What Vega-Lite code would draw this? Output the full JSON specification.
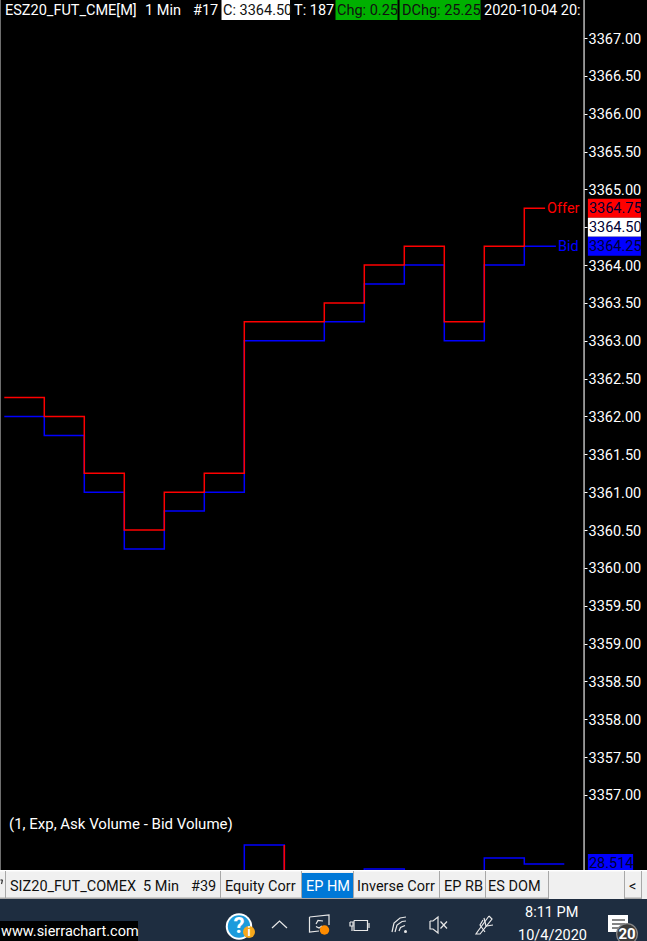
{"$schema":"https://vega.github.io/schema/vega-lite/v6.json","width":647,"height":941,"padding":0,"autosize":"none","background":"#000000","config":{"view":{"stroke":null},"text":{"font":"Roboto","fontSize":14.5}},
"datasets":{
"quotes":[
{"series":"Bid","bar":0,"price":3362.0},{"series":"Bid","bar":1,"price":3361.75},{"series":"Bid","bar":2,"price":3361.0},{"series":"Bid","bar":3,"price":3360.25},{"series":"Bid","bar":4,"price":3360.75},{"series":"Bid","bar":5,"price":3361.0},{"series":"Bid","bar":6,"price":3363.0},{"series":"Bid","bar":7,"price":3363.0},{"series":"Bid","bar":8,"price":3363.25},{"series":"Bid","bar":9,"price":3363.75},{"series":"Bid","bar":10,"price":3364.0},{"series":"Bid","bar":11,"price":3363.0},{"series":"Bid","bar":12,"price":3364.0},{"series":"Bid","bar":13,"price":3364.25},{"series":"Bid","bar":13.79,"price":3364.25},
{"series":"Offer","bar":0,"price":3362.25},{"series":"Offer","bar":1,"price":3362.0},{"series":"Offer","bar":2,"price":3361.25},{"series":"Offer","bar":3,"price":3360.5},{"series":"Offer","bar":4,"price":3361.0},{"series":"Offer","bar":5,"price":3361.25},{"series":"Offer","bar":6,"price":3363.25},{"series":"Offer","bar":7,"price":3363.25},{"series":"Offer","bar":8,"price":3363.5},{"series":"Offer","bar":9,"price":3364.0},{"series":"Offer","bar":10,"price":3364.25},{"series":"Offer","bar":11,"price":3363.25},{"series":"Offer","bar":12,"price":3364.25},{"series":"Offer","bar":13,"price":3364.75},{"series":"Offer","bar":13.52,"price":3364.75}],
"labels":[{"series":"Offer","bar":14.38,"price":3364.75},{"series":"Bid","bar":14.36,"price":3364.25}],
"badges":[{"role":"ask","bar":14.59,"bar2":15.915,"price":3364.75,"lo":3364.625,"hi":3364.875},{"role":"last","bar":14.59,"bar2":15.915,"price":3364.5,"lo":3364.375,"hi":3364.625},{"role":"bid","bar":14.59,"bar2":15.915,"price":3364.25,"lo":3364.125,"hi":3364.375}],
"volume":[{"bar":5,"delta":-5},{"bar":6,"delta":47.5},{"bar":7,"delta":-5},{"bar":9,"delta":23.5},{"bar":10,"delta":-5},{"bar":12,"delta":34.5},{"bar":13,"delta":28.514},{"bar":14,"delta":28.514}],
"volumeRed":[{"bar":7,"delta":-5,"delta2":47.5}],
"volumeBadge":[{"bar":14.59,"bar2":15.72,"lo":22.5,"hi":38.5,"delta":28.514,"label":"28.514"}],
"panels":[
{"role":"white","x":583.5,"x2":584.6,"y":0,"y2":870},
{"role":"edge","x":0,"x2":1,"y":0,"y2":870},
{"role":"white","x":221.5,"x2":290,"y":0,"y2":20},
{"role":"green","x":335.5,"x2":397.5,"y":0,"y2":20},
{"role":"green","x":399.6,"x2":480.5,"y":0,"y2":20},
{"role":"white","x":0,"x2":647,"y":870,"y2":872},
{"role":"tabs","x":0,"x2":647,"y":871.5,"y2":899},
{"role":"divider","x":0,"x2":548,"y":897.5,"y2":899},
{"role":"divider","x":624,"x2":641,"y":897.5,"y2":899},
{"role":"divider","x":5,"x2":6,"y":871,"y2":899},
{"role":"divider","x":220,"x2":221,"y":871,"y2":899},
{"role":"divider","x":301,"x2":302,"y":871,"y2":899},
{"role":"divider","x":353,"x2":354,"y":871,"y2":899},
{"role":"divider","x":439,"x2":440,"y":871,"y2":899},
{"role":"divider","x":485,"x2":486,"y":871,"y2":899},
{"role":"divider","x":548,"x2":549,"y":871,"y2":899},
{"role":"divider","x":624,"x2":625,"y":871,"y2":899},
{"role":"divider","x":641,"x2":642,"y":871,"y2":899},
{"role":"active","x":302,"x2":353,"y":873,"y2":898},
{"role":"taskbar","x":0,"x2":647,"y":899,"y2":941},
{"role":"black","x":0,"x2":138,"y":921,"y2":941},
{"role":"white","x":608,"x2":628,"y":915,"y2":932}],
"texts":[
{"t":"ESZ20_FUT_CME[M]","x":5,"y":10.5,"c":"light"},{"t":"1 Min","x":145,"y":10.5,"c":"light"},{"t":"#17","x":193,"y":10.5,"c":"light"},{"t":"C: 3364.50","x":223,"y":10.5,"c":"dark"},{"t":"T: 187","x":294,"y":10.5,"c":"light"},{"t":"Chg: 0.25","x":337,"y":10.5,"c":"dark"},{"t":"DChg: 25.25","x":402,"y":10.5,"c":"dark"},{"t":"2020-10-04 20:","x":484,"y":10.5,"c":"light"},
{"t":"SIZ20_FUT_COMEX","x":10,"y":887,"c":"dark"},{"t":"5 Min","x":143,"y":887,"c":"dark"},{"t":"#39","x":191,"y":887,"c":"dark"},{"t":"Equity Corr","x":225,"y":887,"c":"dark"},{"t":"EP HM","x":306,"y":887,"c":"light"},{"t":"Inverse Corr","x":357,"y":887,"c":"dark"},{"t":"EP RB","x":444,"y":887,"c":"dark"},{"t":"ES DOM","x":488,"y":887,"c":"dark"},{"t":"<","x":629,"y":887,"c":"dark"},
{"t":"www.sierrachart.com","x":1,"y":932,"c":"light"},{"t":"8:11 PM","x":525,"y":913,"c":"light"},{"t":"10/4/2020","x":518,"y":936,"c":"light"}],
"study":[{"t":"(1, Exp, Ask Volume - Bid Volume)","x":9,"y":824}],
"strokes":[
{"id":"caret","o":1,"x":272,"y":928},{"id":"caret","o":2,"x":279.5,"y":921},{"id":"caret","o":3,"x":287,"y":928},
{"id":"monitor","o":1,"x":309.5,"y":917},{"id":"monitor","o":2,"x":329,"y":915},{"id":"monitor","o":3,"x":329,"y":925},{"id":"monitor2","o":1,"x":319,"y":931},{"id":"monitor2","o":2,"x":309.5,"y":932},{"id":"monitor2","o":3,"x":309.5,"y":917},
{"id":"arrow","o":1,"x":316,"y":924},{"id":"arrow","o":2,"x":318,"y":920.5},{"id":"arrow","o":3,"x":323,"y":921},
{"id":"arrow2","o":1,"x":322,"y":926},{"id":"arrow2","o":2,"x":319,"y":928},{"id":"arrow2","o":3,"x":316,"y":926.5},
{"id":"battery","o":1,"x":354,"y":920.5},{"id":"battery","o":2,"x":367.5,"y":920.5},{"id":"battery","o":3,"x":367.5,"y":930.5},{"id":"battery","o":4,"x":354,"y":930.5},{"id":"battery","o":5,"x":354,"y":920.5},
{"id":"nub","o":1,"x":369,"y":923},{"id":"nub","o":2,"x":369,"y":928},
{"id":"plug","o":1,"x":350,"y":922},{"id":"plug","o":2,"x":353,"y":922},{"id":"plug","o":3,"x":353,"y":926},{"id":"plug","o":4,"x":350,"y":926},{"id":"plug","o":5,"x":350,"y":922},
{"id":"plugb","o":1,"x":352,"y":926},{"id":"plugb","o":2,"x":352,"y":931},
{"id":"wifi1","o":1,"x":399,"y":931},{"id":"wifi1","o":2,"x":400.5,"y":927.5},{"id":"wifi1","o":3,"x":405,"y":925.5},
{"id":"wifi2","o":1,"x":395,"y":932},{"id":"wifi2","o":2,"x":397,"y":925},{"id":"wifi2","o":3,"x":402,"y":921.5},{"id":"wifi2","o":4,"x":406,"y":921},
{"id":"wifi3","o":1,"x":392,"y":932},{"id":"wifi3","o":2,"x":394,"y":923},{"id":"wifi3","o":3,"x":400,"y":918},{"id":"wifi3","o":4,"x":406,"y":917},
{"id":"speaker","o":1,"x":430,"y":921},{"id":"speaker","o":2,"x":433,"y":921},{"id":"speaker","o":3,"x":438,"y":917},{"id":"speaker","o":4,"x":438,"y":933},{"id":"speaker","o":5,"x":433,"y":929},{"id":"speaker","o":6,"x":430,"y":929},{"id":"speaker","o":7,"x":430,"y":921},
{"id":"x1","o":1,"x":440.5,"y":921.5},{"id":"x1","o":2,"x":447,"y":928.5},{"id":"x2","o":1,"x":447,"y":921.5},{"id":"x2","o":2,"x":440.5,"y":928.5},
{"id":"pen","o":1,"x":489,"y":916},{"id":"pen","o":2,"x":478,"y":931},{"id":"pen","o":3,"x":476,"y":934},{"id":"pen","o":4,"x":480,"y":934},{"id":"pen","o":5,"x":492,"y":919},{"id":"pen","o":6,"x":489,"y":916},
{"id":"pen2","o":1,"x":484,"y":918},{"id":"pen2","o":2,"x":486,"y":926},{"id":"pen2","o":3,"x":493,"y":925},
{"id":"pen3","o":1,"x":483,"y":920},{"id":"pen3","o":2,"x":480,"y":925},{"id":"pen3","o":3,"x":485,"y":932}],
"notes":[{"id":"n1","o":1,"x":612,"y":920},{"id":"n1","o":2,"x":625,"y":920},{"id":"n2","o":1,"x":612,"y":924},{"id":"n2","o":2,"x":625,"y":924},{"id":"n3","o":1,"x":612,"y":928},{"id":"n3","o":2,"x":622,"y":928},{"id":"tabY","o":1,"x":0.5,"y":880},{"id":"tabY","o":2,"x":2.5,"y":880},{"id":"tabY2","o":1,"x":2.5,"y":880},{"id":"tabY2","o":2,"x":1.5,"y":884}],
"dots":[{"role":"ring","x":239,"y":926.5,"d":700},{"role":"help","x":239,"y":926.5,"d":500},{"role":"warn","x":249,"y":932,"d":144},{"role":"warn2","x":324.5,"y":930,"d":90},{"role":"wifi","x":405.5,"y":931.5,"d":9},{"role":"badgeRing","x":627,"y":934,"d":484},{"role":"badge","x":627,"y":934,"d":380}],
"glyphBig":[{"t":"?","x":239,"y":926}],
"glyphSmall":[{"t":"i","x":249,"y":932}],
"glyphMid":[{"t":"20","x":627,"y":934}]
},
"layer":[
{"data":{"name":"quotes"},"mark":{"type":"line","interpolate":"step-after","strokeWidth":1.5},"encoding":{"x":{"field":"bar","type":"quantitative","scale":{"domain":[-0.1075,16.0675],"nice":false,"zero":false},"axis":null},"y":{"field":"price","type":"quantitative","scale":{"domain":[3355.071,3367.502],"nice":false,"zero":false},"axis":{"orient":"right","offset":-63,"values":[3357,3357.5,3358,3358.5,3359,3359.5,3360,3360.5,3361,3361.5,3362,3362.5,3363,3363.5,3364,3364.5,3365,3365.5,3366,3366.5,3367],"format":".2f","domain":false,"grid":false,"tickColor":"#ffffff","tickSize":3,"tickWidth":1,"labelColor":"#ffffff","labelFont":"Roboto","labelFontSize":14.5,"labelPadding":1,"labelOffset":1,"title":null,"labelOverlap":false,"labelFlush":false}},"color":{"field":"series","type":"nominal","scale":{"domain":["Bid","Offer"],"range":["#0000ff","#ff0000"]},"legend":null},"order":{"field":"bar","type":"quantitative"}}},
{"data":{"name":"labels"},"mark":{"type":"text","align":"right","baseline":"middle","dy":1},"encoding":{"x":{"field":"bar","type":"quantitative","scale":{"domain":[-0.1075,16.0675],"nice":false,"zero":false},"axis":null},"y":{"field":"price","type":"quantitative","scale":{"domain":[3355.071,3367.502],"nice":false,"zero":false},"axis":null},"text":{"field":"series"},"color":{"field":"series","type":"nominal","scale":{"domain":["Bid","Offer"],"range":["#0000ff","#ff0000"]},"legend":null}}},
{"data":{"name":"badges"},"mark":{"type":"rect"},"encoding":{"x":{"field":"bar","type":"quantitative","scale":{"domain":[-0.1075,16.0675],"nice":false,"zero":false},"axis":null},"x2":{"field":"bar2"},"y":{"field":"lo","type":"quantitative","scale":{"domain":[3355.071,3367.502],"nice":false,"zero":false},"axis":null},"y2":{"field":"hi"},"color":{"field":"role","type":"nominal","scale":{"domain":["ask","last","bid"],"range":["#ff0000","#ffffff","#0000ff"]},"legend":null}}},
{"data":{"name":"badges"},"mark":{"type":"text","align":"left","baseline":"middle","color":"#000033","dx":1,"dy":1},"encoding":{"x":{"field":"bar","type":"quantitative","scale":{"domain":[-0.1075,16.0675],"nice":false,"zero":false},"axis":null},"y":{"field":"price","type":"quantitative","scale":{"domain":[3355.071,3367.502],"nice":false,"zero":false},"axis":null},"text":{"field":"price","type":"quantitative","format":".2f"}}},
{"data":{"name":"volume"},"mark":{"type":"line","interpolate":"step-after","strokeWidth":1.5,"color":"#0000ff"},"encoding":{"x":{"field":"bar","type":"quantitative","scale":{"domain":[-0.1075,16.0675],"nice":false,"zero":false},"axis":null},"y":{"field":"delta","type":"quantitative","scale":{"domain":[-48.5,892.5],"nice":false,"zero":false},"axis":null}}},
{"data":{"name":"volumeRed"},"mark":{"type":"rule","strokeWidth":1.6,"color":"#ff0000"},"encoding":{"x":{"field":"bar","type":"quantitative","scale":{"domain":[-0.1075,16.0675],"nice":false,"zero":false},"axis":null},"y":{"field":"delta","type":"quantitative","scale":{"domain":[-48.5,892.5],"nice":false,"zero":false},"axis":null},"y2":{"field":"delta2"}}},
{"data":{"name":"volumeBadge"},"mark":{"type":"rect","color":"#0000ff"},"encoding":{"x":{"field":"bar","type":"quantitative","scale":{"domain":[-0.1075,16.0675],"nice":false,"zero":false},"axis":null},"x2":{"field":"bar2"},"y":{"field":"lo","type":"quantitative","scale":{"domain":[-48.5,892.5],"nice":false,"zero":false},"axis":null},"y2":{"field":"hi"}}},
{"data":{"name":"volumeBadge"},"mark":{"type":"text","align":"left","baseline":"middle","color":"#000033","dx":1},"encoding":{"x":{"field":"bar","type":"quantitative","scale":{"domain":[-0.1075,16.0675],"nice":false,"zero":false},"axis":null},"y":{"field":"delta","type":"quantitative","scale":{"domain":[-48.5,892.5],"nice":false,"zero":false},"axis":null},"text":{"field":"label"}}},
{"data":{"name":"panels"},"mark":{"type":"rect"},"encoding":{"x":{"field":"x","type":"quantitative","scale":{"domain":[0,647],"nice":false,"zero":false},"axis":null},"x2":{"field":"x2"},"y":{"field":"y","type":"quantitative","scale":{"domain":[941,0],"nice":false,"zero":false},"axis":null},"y2":{"field":"y2"},"color":{"field":"role","type":"nominal","scale":{"domain":["white","edge","green","tabs","divider","active","taskbar","black"],"range":["#ffffff","#6e6e6e","#00b000","#f0f0f0","#a8a8a8","#0078d7","#1e2d40","#000000"]},"legend":null}}},
{"data":{"name":"texts"},"mark":{"type":"text","align":"left","baseline":"middle"},"encoding":{"x":{"field":"x","type":"quantitative","scale":{"domain":[0,647],"nice":false,"zero":false},"axis":null},"y":{"field":"y","type":"quantitative","scale":{"domain":[941,0],"nice":false,"zero":false},"axis":null},"text":{"field":"t"},"color":{"field":"c","type":"nominal","scale":{"domain":["light","dark"],"range":["#ffffff","#111111"]},"legend":null}}},
{"data":{"name":"study"},"mark":{"type":"text","align":"left","baseline":"middle","fontSize":15,"color":"#ffffff"},"encoding":{"x":{"field":"x","type":"quantitative","scale":{"domain":[0,647],"nice":false,"zero":false},"axis":null},"y":{"field":"y","type":"quantitative","scale":{"domain":[941,0],"nice":false,"zero":false},"axis":null},"text":{"field":"t"}}},
{"data":{"name":"strokes"},"mark":{"type":"line","strokeWidth":1.2,"color":"#e8e8e8"},"encoding":{"x":{"field":"x","type":"quantitative","scale":{"domain":[0,647],"nice":false,"zero":false},"axis":null},"y":{"field":"y","type":"quantitative","scale":{"domain":[941,0],"nice":false,"zero":false},"axis":null},"detail":{"field":"id"},"order":{"field":"o"}}},
{"data":{"name":"notes"},"mark":{"type":"line","strokeWidth":1.2,"color":"#333333"},"encoding":{"x":{"field":"x","type":"quantitative","scale":{"domain":[0,647],"nice":false,"zero":false},"axis":null},"y":{"field":"y","type":"quantitative","scale":{"domain":[941,0],"nice":false,"zero":false},"axis":null},"detail":{"field":"id"},"order":{"field":"o"}}},
{"data":{"name":"dots"},"mark":{"type":"point","shape":"circle","filled":true,"opacity":1},"encoding":{"x":{"field":"x","type":"quantitative","scale":{"domain":[0,647],"nice":false,"zero":false},"axis":null},"y":{"field":"y","type":"quantitative","scale":{"domain":[941,0],"nice":false,"zero":false},"axis":null},"size":{"field":"d","type":"quantitative","scale":{"domain":[0,1000],"range":[0,1000]},"legend":null},"color":{"field":"role","type":"nominal","scale":{"domain":["ring","help","warn","warn2","wifi","badgeRing","badge"],"range":["#ffffff","#1c9bdc","#f6a81c","#ff8c00","#e8e8e8","#888888","#3a3a3a"]},"legend":null},"order":{"field":"d","type":"quantitative","sort":"descending"}}},
{"data":{"name":"glyphBig"},"mark":{"type":"text","align":"center","baseline":"middle","fontWeight":"bold","color":"#ffffff","fontSize":22},"encoding":{"x":{"field":"x","type":"quantitative","scale":{"domain":[0,647],"nice":false,"zero":false},"axis":null},"y":{"field":"y","type":"quantitative","scale":{"domain":[941,0],"nice":false,"zero":false},"axis":null},"text":{"field":"t"}}},
{"data":{"name":"glyphSmall"},"mark":{"type":"text","align":"center","baseline":"middle","fontWeight":"bold","color":"#ffffff","fontSize":12},"encoding":{"x":{"field":"x","type":"quantitative","scale":{"domain":[0,647],"nice":false,"zero":false},"axis":null},"y":{"field":"y","type":"quantitative","scale":{"domain":[941,0],"nice":false,"zero":false},"axis":null},"text":{"field":"t"}}},
{"data":{"name":"glyphMid"},"mark":{"type":"text","align":"center","baseline":"middle","fontWeight":"bold","color":"#ffffff","fontSize":15},"encoding":{"x":{"field":"x","type":"quantitative","scale":{"domain":[0,647],"nice":false,"zero":false},"axis":null},"y":{"field":"y","type":"quantitative","scale":{"domain":[941,0],"nice":false,"zero":false},"axis":null},"text":{"field":"t"}}}
],
"resolve":{"scale":{"x":"independent","y":"independent","color":"independent","size":"independent"}}}
